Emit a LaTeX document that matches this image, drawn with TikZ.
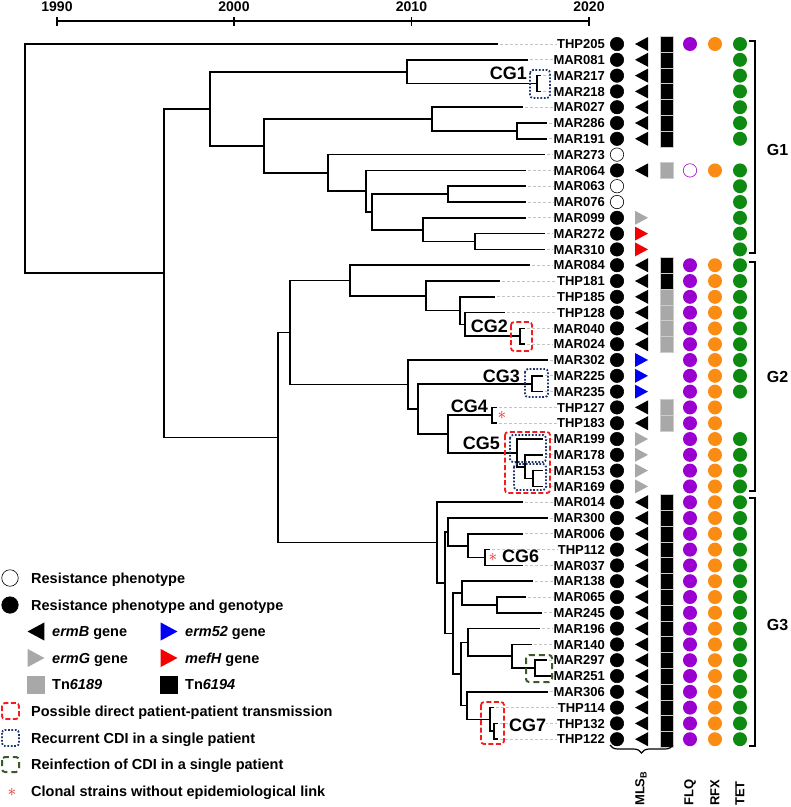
\documentclass[tikz,border=0pt]{standalone}
\usepackage{fontspec}
\setmainfont{Liberation Sans}
\usetikzlibrary{positioning, calc, decorations.pathreplacing}
\definecolor{GuideGray}{HTML}{C4C4C4}
\definecolor{GeneGray}{HTML}{A8A8A8}
\definecolor{GeneBlue}{HTML}{0000F5}
\definecolor{GeneRed}{HTML}{F50000}
\definecolor{FlqPurple}{HTML}{9A00D0}
\definecolor{RfxOrange}{HTML}{FA8C14}
\definecolor{TetGreen}{HTML}{0E8A12}
\definecolor{TransRed}{HTML}{F41C1C}
\definecolor{RecurNavy}{HTML}{1C3472}
\definecolor{ReinfGreen}{HTML}{3C5A2A}

% strain groups
\newcommand{\grpTwo}{MAR084,THP181,THP185,THP128,MAR040,MAR024,MAR302,MAR225,MAR235,THP127,THP183,MAR199,MAR178,MAR153,MAR169}
\newcommand{\grpThree}{MAR014,MAR300,MAR006,THP112,MAR037,MAR138,MAR065,MAR245,MAR196,MAR140,MAR297,MAR251,MAR306,THP114,THP132,THP122}

% clade: name, x, upper child, lower child
\newcommand{\clade}[4]{%
  \path let \p1=($(#3)!0.5!(#4)$) in coordinate (#1) at (#2pt,\y1);
  \draw[branch] (#3) -| (#1) |- (#4);}

\begin{document}
\begin{tikzpicture}[x=1pt, y=-1pt,
    branch/.style={line width=1.7pt},
    guide/.style={GuideGray, line width=0.7pt, dash pattern=on 2.5pt off 2.5pt},
    tiplab/.style={font=\bfseries\fontsize{13}{13}\selectfont, anchor=east, inner sep=0pt, text height=9.3pt, text depth=0pt},
    cglab/.style={font=\bfseries\fontsize{18}{18}\selectfont, inner sep=0pt, text height=12.9pt, text depth=0pt},
    grplab/.style={font=\bfseries\fontsize{16}{16}\selectfont, inner sep=0pt, text height=11.5pt, text depth=0pt},
    axlab/.style={font=\bfseries\fontsize{14}{14}\selectfont, inner sep=0pt, text height=10pt, text depth=0pt},
    collab/.style={font=\bfseries\fontsize{13}{13}\selectfont, inner sep=0pt, rotate=90, anchor=west},
    legtext/.style={font=\bfseries\fontsize{14.5}{14.5}\selectfont, anchor=west, inner sep=0pt, text height=10.4pt, text depth=0pt},
    pheno/.style={circle, draw=black, fill=black, line width=0.6pt, minimum size=13.4pt, inner sep=0pt},
    resdot/.style={circle, minimum size=14pt, inner sep=0pt},
    tnsq/.style={rectangle, minimum width=13.5pt, minimum height=15.8pt, inner sep=0pt, draw=white!80!black, line width=0.4pt},
    transbox/.style={draw=TransRed, line width=1.8pt, dash pattern=on 5pt off 2.5pt, rounded corners=3pt},
    recurbox/.style={draw=RecurNavy, line width=1.8pt, dash pattern=on 1.7pt off 1.7pt, rounded corners=3pt},
    reinfbox/.style={draw=ReinfGreen, line width=2pt, dash pattern=on 6pt off 4pt, rounded corners=3pt},
    clonal/.style={TransRed, font=\fontsize{19}{19}\selectfont, inner sep=0pt},
    grpbr/.style={line width=1.6pt},
    ermleft/.pic={\fill (-6.5,0) -- (6.5,-7) -- (6.5,7) -- cycle;},
    ermright/.pic={\fill (-6.5,-7) -- (-6.5,7) -- (6.5,0) -- cycle;}]
\useasboundingbox (0,0) rectangle (791,807);

% Time axis
\coordinate (y1990) at (57,21);
\coordinate (y2000) at (234,21);
\coordinate (y2010) at (411.5,21);
\coordinate (y2020) at (589,21);
\draw[line width=1.8pt] (y1990) -- (y2020);
\foreach \yr in {1990,2000,2010,2020} {
  \draw[line width=1.8pt] ([yshift=-4.5pt]y\yr) -- ([yshift=4.5pt]y\yr);
  \node[axlab, above=9pt of y\yr] (lab\yr) {\yr};
}

% Strain labels and tip ends
\foreach \n/\x [count=\i from 0] in {THP205/498, MAR081/528, MAR217/541, MAR218/541, MAR027/523,
    MAR286/547, MAR191/547, MAR273/545, MAR064/526, MAR063/526, MAR076/526, MAR099/526,
    MAR272/545, MAR310/545, MAR084/530, THP181/500, THP185/495, THP128/505, MAR040/525,
    MAR024/525, MAR302/548, MAR225/543, MAR235/543, THP127/497, THP183/497, MAR199/543,
    MAR178/543, MAR153/543, MAR169/543, MAR014/523, MAR300/548, MAR006/523, THP112/490,
    MAR037/523, MAR138/533, MAR065/526, MAR245/542, MAR196/540, MAR140/532, MAR297/547,
    MAR251/552, MAR306/548, THP114/494, THP132/498, THP122/498} {
  \node[tiplab] (\n) at (605,{44+15.8*\i}) {\n};
  \coordinate (t\n) at (\x,{44+15.8*\i});
  \draw[guide] ([xshift=2pt]t\n) -- (\n.west);
}

% Tree, G1
\clade{cgA}{537}{tMAR217}{tMAR218}
\clade{nC}{407}{tMAR081}{cgA}
\clade{nE2}{517}{tMAR286}{tMAR191}
\clade{nE}{432}{tMAR027}{nE2}
\clade{nF6}{475}{tMAR272}{tMAR310}
\clade{nF5}{423}{tMAR099}{nF6}
\clade{nF4}{448}{tMAR063}{tMAR076}
\clade{nF3}{372}{nF4}{nF5}
\clade{nF2}{366}{tMAR064}{nF3}
\clade{nF}{328}{tMAR273}{nF2}
\clade{nD}{264}{nE}{nF}
\clade{nB}{210}{nC}{nD}
% Tree, G2
\clade{cgB}{520}{tMAR040}{tMAR024}
\clade{nH4}{465}{tTHP128}{cgB}
\clade{nH3}{460}{tTHP185}{nH4}
\clade{nH2}{426}{tTHP181}{nH3}
\clade{nH}{350}{tMAR084}{nH2}
\clade{cgC}{532}{tMAR225}{tMAR235}
\clade{cgD}{492}{tTHP127}{tTHP183}
\clade{nC5c}{533}{tMAR153}{tMAR169}
\clade{nC5b}{525}{tMAR178}{nC5c}
\clade{cgE}{517}{tMAR199}{nC5b}
\clade{nK3}{448}{cgD}{cgE}
\clade{nK2}{418}{cgC}{nK3}
\clade{nK}{408}{tMAR302}{nK2}
\clade{nG2}{290}{nH}{nK}
% Tree, G3
\clade{cgF}{485}{tTHP112}{tMAR037}
\clade{nP4}{468}{tMAR006}{cgF}
\clade{nP3}{448}{tMAR300}{nP4}
\clade{nQ1b}{497}{tMAR065}{tMAR245}
\clade{nQ1}{462}{tMAR138}{nQ1b}
\clade{nR3}{535}{tMAR297}{tMAR251}
\clade{nR2}{512}{tMAR140}{nR3}
\clade{nR}{468}{tMAR196}{nR2}
\clade{nT2}{494}{tTHP132}{tTHP122}
\clade{cgG}{490}{tTHP114}{nT2}
\clade{nS}{467}{tMAR306}{cgG}
\clade{nQ2}{461}{nR}{nS}
\clade{nP6}{453}{nQ1}{nQ2}
\clade{nP2}{445}{nP3}{nP6}
\clade{nP1}{437}{tMAR014}{nP2}
% Backbone
\clade{nG23}{278}{nG2}{nP1}
\clade{nA}{164}{nB}{nG23}
\clade{nRoot}{25}{tTHP205}{nA}

% Clonal groups
\draw[recurbox] (530,70) rectangle (550,98);
\draw[transbox] (511,322) rectangle (532,351);
\draw[recurbox] (525,369) rectangle (548,397);
\draw[transbox] (505,432) rectangle (550,493);
\draw[recurbox] (510,435) rectangle (546,462);
\draw[recurbox] (514,464) rectangle (546,490);
\draw[reinfbox] (526,655) rectangle (552,682);
\draw[transbox] (481,702) rectangle (504,744);
\node[cglab, anchor=east] (labCG1) at (527,73.5) {CG1};
\node[cglab, anchor=east] (labCG2) at (508,326.5) {CG2};
\node[cglab, anchor=east] (labCG3) at (520,376) {CG3};
\node[cglab, anchor=east] (labCG4) at (488,406.5) {CG4};
\node[cglab, anchor=east] (labCG5) at (500,443.5) {CG5};
\node[cglab, anchor=west, fill=white] (labCG6) at (502,556.5) {CG6};
\node[cglab, anchor=west, fill=white] (labCG7) at (509,725) {CG7};
\node[clonal] (astCG4) at (502,415) {$\ast$};
\node[clonal] (astCG6) at (493,557) {$\ast$};

% Columns
\coordinate (colPheno) at (617,0);
\coordinate (colGene) at (641.5,0);
\coordinate (colTn) at (666.5,0);
\coordinate (colFlq) at (690,0);
\coordinate (colRfx) at (715,0);
\coordinate (colTet) at (740,0);

% Resistance phenotype / genotype
\foreach \n in {THP205,MAR081,MAR217,MAR218,MAR027,MAR286,MAR191,MAR064,MAR099,MAR272,MAR310}
  \node[pheno] at (colPheno |- \n) {};
\foreach \n in \grpTwo \node[pheno] at (colPheno |- \n) {};
\foreach \n in \grpThree \node[pheno] at (colPheno |- \n) {};
\foreach \n in {MAR273,MAR063,MAR076} \node[pheno, fill=white] at (colPheno |- \n) {};

% MLSB genes
\foreach \n in {THP205,MAR081,MAR217,MAR218,MAR027,MAR286,MAR191,MAR064,MAR084,THP181,THP185,THP128,MAR040,MAR024,THP127,THP183}
  \pic[black] at (colGene |- \n) {ermleft};
\foreach \n in \grpThree \pic[black] at (colGene |- \n) {ermleft};
\foreach \n in {MAR099,MAR199,MAR178,MAR153,MAR169} \pic[GeneGray] at (colGene |- \n) {ermright};
\foreach \n in {MAR272,MAR310} \pic[GeneRed] at (colGene |- \n) {ermright};
\foreach \n in {MAR302,MAR225,MAR235} \pic[GeneBlue] at (colGene |- \n) {ermright};

% Transposons
\foreach \n in {THP205,MAR081,MAR217,MAR218,MAR027,MAR286,MAR191,MAR084,THP181}
  \node[tnsq, fill=black] at (colTn |- \n) {};
\foreach \n in \grpThree \node[tnsq, fill=black] at (colTn |- \n) {};
\foreach \n in {MAR064,THP185,THP128,MAR040,MAR024,THP127,THP183}
  \node[tnsq, fill=GeneGray] at (colTn |- \n) {};

% FLQ and RFX
\foreach \n in {THP205} {
  \node[resdot, fill=FlqPurple] at (colFlq |- \n) {};
  \node[resdot, fill=RfxOrange] at (colRfx |- \n) {};
}
\node[resdot, draw=FlqPurple, fill=white, line width=0.6pt, minimum size=13.4pt] at (colFlq |- MAR064) {};
\node[resdot, fill=RfxOrange] at (colRfx |- MAR064) {};
\foreach \n in \grpTwo {
  \node[resdot, fill=FlqPurple] at (colFlq |- \n) {};
  \node[resdot, fill=RfxOrange] at (colRfx |- \n) {};
}
\foreach \n in \grpThree {
  \node[resdot, fill=FlqPurple] at (colFlq |- \n) {};
  \node[resdot, fill=RfxOrange] at (colRfx |- \n) {};
}

% TET
\foreach \n in {THP205,MAR081,MAR217,MAR218,MAR027,MAR286,MAR191,MAR064,MAR063,MAR076,MAR099,MAR272,MAR310,
    MAR084,THP181,THP185,THP128,MAR040,MAR024,MAR302,MAR225,MAR235,MAR199,MAR178,MAR153,MAR169}
  \node[resdot, fill=TetGreen] at (colTet |- \n) {};
\foreach \n in \grpThree \node[resdot, fill=TetGreen] at (colTet |- \n) {};

% Groups
\draw[grpbr] (749,41) -- (755,41) -- (755,253) -- (749,253);
\node[grplab] (labG1) at (777.5,150) {G1};
\draw[grpbr] (749,262) -- (755,262) -- (755,491) -- (749,491);
\node[grplab] (labG2) at (777.5,377) {G2};
\draw[grpbr] (749,498) -- (755,498) -- (755,746) -- (749,746);
\node[grplab] (labG3) at (777.5,625) {G3};

% Column labels
\coordinate (mlsL) at (610,745);
\coordinate (mlsR) at (673,745);
\draw[line width=1.2pt, decorate, decoration={brace, mirror, amplitude=8pt}] (mlsL) -- (mlsR);
\node[collab] (labMLS) at (641,806) {MLS\textsubscript{B}};
\node[collab] (labFLQ) at (690,806) {FLQ};
\node[collab] (labRFX) at (715,806) {RFX};
\node[collab] (labTET) at (740,806) {TET};

% Legend
\node[pheno, fill=white, minimum size=16.5pt] (keyPheno) at (10,578) {};
\node[legtext] (legPheno) at (31,578) {Resistance phenotype};
\node[pheno, minimum size=16.5pt] (keyGeno) at (10,605) {};
\node[legtext] (legGeno) at (31,605) {Resistance phenotype and genotype};
\pic[black, scale=1.3] at (36,631.5) {ermleft};
\node[legtext] (legErmB) at (52,631.5) {{\itshape ermB} gene};
\pic[GeneBlue, scale=1.3] at (169,631.5) {ermright};
\node[legtext] (legErm52) at (185,631.5) {{\itshape erm52} gene};
\pic[GeneGray, scale=1.3] at (36,658) {ermright};
\node[legtext] (legErmG) at (52,658) {{\itshape ermG} gene};
\pic[GeneRed, scale=1.3] at (169,658) {ermright};
\node[legtext] (legMefH) at (185,658) {{\itshape mefH} gene};
\node[tnsq, fill=GeneGray, draw=none, minimum size=18pt] (keyTnA) at (36,684.5) {};
\node[legtext] (legTnA) at (52,684.5) {Tn{\itshape 6189}};
\node[tnsq, fill=black, draw=none, minimum size=18pt] (keyTnB) at (169,684.5) {};
\node[legtext] (legTnB) at (185,684.5) {Tn{\itshape 6194}};
\draw[transbox] (2,703) rectangle (19,719);
\node[legtext] (legTrans) at (31,711) {Possible direct patient-patient transmission};
\draw[recurbox] (2,730) rectangle (19,746);
\node[legtext] (legRecur) at (31,738) {Recurrent CDI in a single patient};
\draw[reinfbox] (2,757) rectangle (19,772);
\node[legtext] (legReinf) at (31,764.5) {Reinfection of CDI in a single patient};
\node[clonal] (keyClonal) at (12,792) {$\ast$};
\node[legtext] (legClonal) at (31,791) {Clonal strains without epidemiological link};
\end{tikzpicture}
\end{document}
